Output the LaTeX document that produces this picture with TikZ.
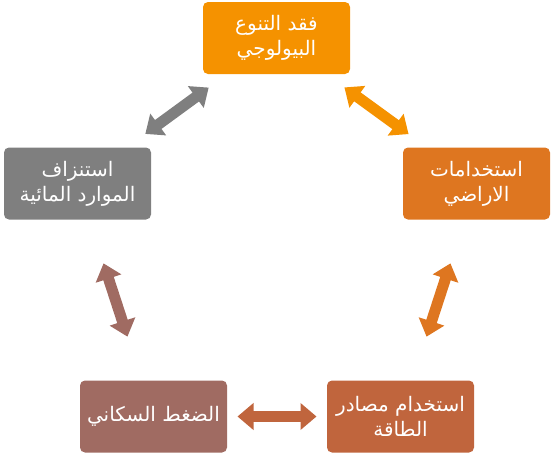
\documentclass[tikz,border=0pt]{standalone}
\usepackage{fontspec}
\usetikzlibrary{arrows.meta}
\TeXXeTstate=1
\newfontfamily\arabicfont[Script=Arabic]{DejaVu Sans}
\newcommand{\artext}[1]{\beginR #1\endR}
\definecolor{cTop}{RGB}{245,146,0}
\definecolor{cRight}{RGB}{222,118,32}
\definecolor{cLeft}{RGB}{127,127,127}
\definecolor{cBL}{RGB}{160,107,98}
\definecolor{cBR}{RGB}{192,101,61}
\tikzset{
  box/.style={rounded corners=5pt, minimum width=147pt, minimum height=72pt, inner sep=0pt,
    text=white, align=center, font=\arabicfont\fontsize{20}{25}\selectfont},
  dbl/.style={line width=11pt, shorten <=84pt, shorten >=84pt,
    {Triangle[length=16pt,width=26pt]}-{Triangle[length=16pt,width=26pt]}}
}
\begin{document}
\begin{tikzpicture}[x=1pt,y=-1pt]
\useasboundingbox (0,0) rectangle (556,458);
\node[box, fill=cTop] (top) at (276.5,38) {\artext{فقد التنوع}\\\artext{البيولوجي}};
\node[box, fill=cRight] (right) at (476.5,183.5) {\artext{استخدامات}\\\artext{الاراضي}};
\node[box, fill=cLeft] (left) at (77.5,183.5) {\artext{استنزاف}\\\artext{الموارد المائية}};
\node[box, fill=cBL] (bl) at (153.5,416.5) {\artext{الضغط السكاني}};
\node[box, fill=cBR] (br) at (400.5,416.5) {\artext{استخدام مصادر}\\\artext{الطاقة}};
\draw[dbl, cLeft] (top.center) -- (left.center);
\draw[dbl, cTop] (top.center) -- (right.center);
\draw[dbl, cRight] (right.center) -- (br.center);
\draw[dbl, cBR] (br.center) -- (bl.center);
\draw[dbl, cBL] (bl.center) -- (left.center);
\end{tikzpicture}
\end{document}
